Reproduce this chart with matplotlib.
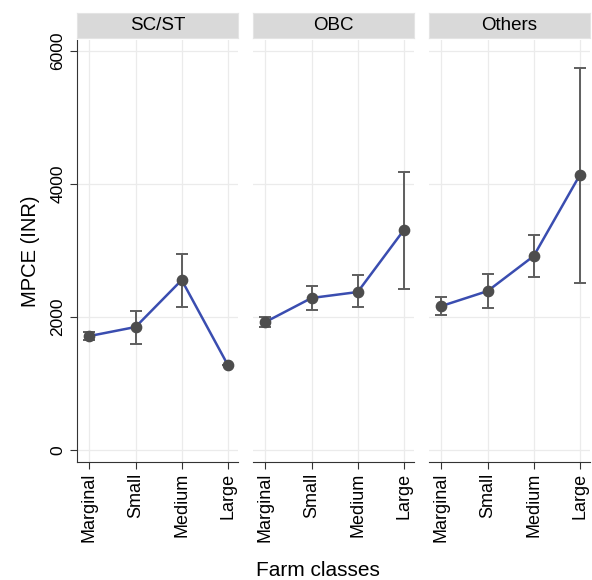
import matplotlib.pyplot as plt

plt.rcParams['font.family'] = ['Liberation Sans', 'DejaVu Sans']

groups = ['SC/ST', 'OBC', 'Others']
classes = ['Marginal', 'Small', 'Medium', 'Large']

# mean MPCE and 95% CI bounds per farm class
mean_scst = [1714, 1850, 2556, 1278]
low_scst = [1660, 1594, 2150, 1278]
high_scst = [1770, 2090, 2947, 1278]

mean_obc = [1925, 2286, 2376, 3308]
low_obc = [1850, 2105, 2150, 2421]
high_obc = [2000, 2466, 2632, 4180]

mean_oth = [2165, 2390, 2917, 4135]
low_oth = [2030, 2135, 2602, 2511]
high_oth = [2300, 2647, 3233, 5744]

means = [mean_scst, mean_obc, mean_oth]
lows = [low_scst, low_obc, low_oth]
highs = [high_scst, high_obc, high_oth]

fig = plt.figure(figsize=(5.92, 5.80), dpi=100)
lefts = [77 / 592, 253 / 592, 429 / 592]
w = 161 / 592
bottom = 1 - 462 / 580
h = (462 - 40) / 580

for i, g in enumerate(groups):
    ax = fig.add_axes([lefts[i], bottom, w, h])
    x = list(range(len(classes)))
    m = means[i]
    yerr = [[m[k] - lows[i][k] for k in x], [highs[i][k] - m[k] for k in x]]
    ax.plot(x, m, color='#3a4db0', lw=1.8, zorder=3)
    ax.errorbar(x, m, yerr=yerr, fmt='none', ecolor='#5e5e5e', elinewidth=1.4,
                capsize=4, capthick=1.4, zorder=2)
    ax.scatter(x, m, s=55, color='#4d4d4d', zorder=4)
    ax.set_xlim(-0.27, 3.22)
    ax.set_ylim(-180, 6165)
    ax.set_yticks([0, 2000, 4000, 6000])
    ax.set_xticks(x)
    ax.set_xticklabels(classes, rotation=90, fontsize=13)
    ax.grid(True, color='#ebebeb', lw=0.9)
    ax.set_axisbelow(True)
    for s in ['top', 'right']:
        ax.spines[s].set_visible(False)
    ax.spines['bottom'].set_color('#333333')
    ax.tick_params(axis='x', length=5, color='#333333', pad=3)
    if i == 0:
        ax.spines['left'].set_color('#333333')
        ax.set_yticklabels(['0', '2000', '4000', '6000'], rotation=90, va='center', fontsize=12.5)
        ax.tick_params(axis='y', length=5, color='#333333')
        ax.set_ylabel('MPCE (INR)', fontsize=14.5, labelpad=7)
    else:
        ax.spines['left'].set_visible(False)
        ax.tick_params(axis='y', length=0, labelleft=False)

    strip = fig.add_axes([lefts[i], 1 - 38 / 580, w, 25 / 580])
    strip.set_facecolor('#d9d9d9')
    strip.set_xticks([])
    strip.set_yticks([])
    for s in strip.spines.values():
        s.set_color('#e4e4e4')
    strip.text(0.5, 0.5, g, ha='center', va='center', fontsize=13.5, transform=strip.transAxes)

fig.text(318 / 592, 1 - 570 / 580, 'Farm classes', ha='center', va='center', fontsize=15)

fig.savefig('out.png', dpi=100)
